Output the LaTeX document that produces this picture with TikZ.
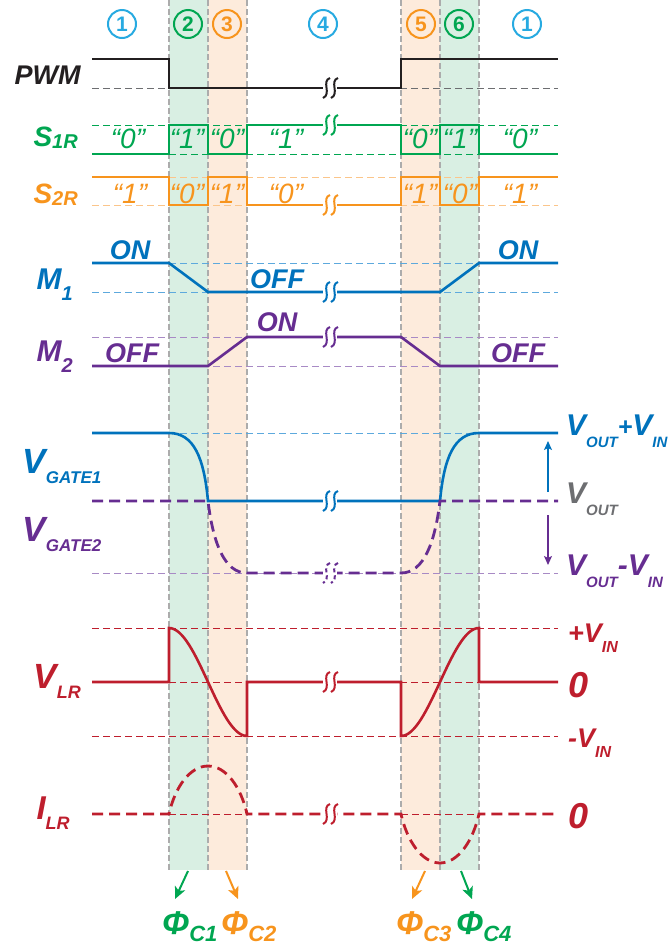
\documentclass[tikz,border=0pt]{standalone}
\usepackage{fontspec}
\setmainfont{Liberation Sans}
\usetikzlibrary{calc, arrows.meta}

\newcommand{\fs}[1]{\fontsize{#1}{#1}\selectfont}
\newcommand{\lowsub}[3]{\raisebox{-#1pt}{\fs{#2}#3}}

\begin{document}
\begin{tikzpicture}[x=1pt, y=-1pt, font=\bfseries\itshape]
    % Define band edges and signal ends
    \def\tA{169} \def\tB{208} \def\tC{247}
    \def\tD{401} \def\tE{440} \def\tF{479}
    \def\xL{92} \def\xR{558} \def\xBrk{330}

    \definecolor{pwmColour}{HTML}{231F20}
    \definecolor{greenColour}{HTML}{00A651}
    \definecolor{orangeColour}{HTML}{F7941D}
    \definecolor{cyanColour}{HTML}{27AAE1}
    \definecolor{blueColour}{HTML}{0072BC}
    \definecolor{purpleColour}{HTML}{662D91}
    \definecolor{redColour}{HTML}{BE1E2D}
    \definecolor{greyColour}{HTML}{6D6E71}
    \definecolor{lightBlue}{HTML}{5DA9DD}
    \definecolor{lightPurple}{HTML}{A88AC5}
    \definecolor{lightOrange}{HTML}{FBC58A}
    \definecolor{bandGreen}{HTML}{D9EFE3}
    \definecolor{bandOrange}{HTML}{FDEBDC}

    \tikzset{
        wave/.style={line width=2.6pt},
        dwave/.style={line width=2.8pt, dash pattern=on 11pt off 6pt},
        refline/.style={line width=1pt, dash pattern=on 7pt off 4pt},
        edge/.style={draw=gray!65, line width=1.2pt, dash pattern=on 6pt off 3pt},
        phase/.style={circle, line width=2pt, minimum size=28pt, inner sep=0pt, font=\bfseries\fs{21}},
        bit/.style={anchor=base, font=\mdseries\itshape\fs{28}},
        state/.style={anchor=base, font=\bfseries\itshape\fs{27}},
        phiarrow/.style={line width=2pt, -{Stealth[length=12pt, width=11pt, inset=3pt]}},
        vararrow/.style={line width=1.3pt, -{Stealth[length=9pt, width=8pt, inset=2pt]}},
        brk/.pic={
            \fill[white] (-7,-11) rectangle (7,11);
            \draw[line width=2pt, pic actions] (0,-10) .. controls (-9,-7) and (2,6) .. (-7,10);
            \draw[line width=2pt, pic actions] (8,-10) .. controls (-1,-7) and (10,6) .. (1,10);
        }
    }

    \useasboundingbox (0,0) rectangle (668,946);

    % Draw shaded bands
    \fill[bandGreen] (\tA,0) rectangle (\tB,870);
    \fill[bandOrange] (\tB,0) rectangle (\tC,870);
    \fill[bandOrange] (\tD,0) rectangle (\tE,870);
    \fill[bandGreen] (\tE,0) rectangle (\tF,870);
    \foreach \x in {\tA,\tB,\tC,\tD,\tE,\tF}
        \draw[edge] (\x,0) -- (\x,870);

    % Phase numbers
    \foreach \cx/\num/\col in {122/1/cyanColour, 188/2/greenColour, 227/3/orangeColour, 323/4/cyanColour, 421/5/orangeColour, 459/6/greenColour, 527/1/cyanColour}
        \node[phase, draw=\col, text=\col] (ph\cx) at (\cx,24) {\num};

    % PWM
    \draw[refline, greyColour] (\xL,88) -- (\xR,88);
    \draw[wave, pwmColour] (\xL,59) -- (\tA,59) -- (\tA,88) -- (\tD,88) -- (\tD,59) -- (\xR,59);
    \path (\xBrk,88) pic[draw=pwmColour] {brk};
    \node[anchor=base west, text=pwmColour, font=\bfseries\itshape\fs{27}] (pwmLabel) at (11,84) {PWM};

    % S1R
    \draw[refline, greenColour] (\xL,125) -- (\xR,125);
    \draw[refline, greenColour] (\xL,154) -- (\xR,154);
    \draw[wave, greenColour] (\xL,154) -| (\tA,125) -| (\tB,154) -| (\tC,125) -| (\tD,154) -| (\tE,125) -| (\tF,154) -- (\xR,154);
    \path (\xBrk,125) pic[draw=greenColour] {brk};
    \node[anchor=base west, text=greenColour] (sOneLabel) at (30,146) {\fs{28}S\lowsub{2}{20}{1R}};
    \foreach \bx/\bv in {128/0, 187/1, 227/0, 286/1, 420/0, 460/1, 520/0}
        \node[bit, text=greenColour] (sOne\bx) at (\bx,148) {“\bv”};

    % S2R
    \draw[refline, lightOrange] (\xL,177) -- (\xR,177);
    \draw[refline, lightOrange] (\xL,205) -- (\xR,205);
    \draw[wave, orangeColour] (\xL,177) -| (\tA,205) -| (\tB,177) -| (\tC,205) -| (\tD,177) -| (\tE,205) -| (\tF,177) -- (\xR,177);
    \path (\xBrk,205) pic[draw=orangeColour] {brk};
    \node[anchor=base west, text=orangeColour] (sTwoLabel) at (30,203) {\fs{28}S\lowsub{2}{20}{2R}};
    \foreach \bx/\bv in {130/1, 187/0, 227/1, 286/0, 420/1, 460/0, 520/1}
        \node[bit, text=orangeColour] (sTwo\bx) at (\bx,203) {“\bv”};

    % M1 and M2
    \draw[refline, lightBlue] (\xL,263) -- (\xR,263);
    \draw[refline, lightBlue] (\xL,292) -- (\xR,292);
    \draw[wave, blueColour] (\xL,263) -- (\tA,263) -- (\tB,292) -- (\tE,292) -- (\tF,263) -- (\xR,263);
    \path (\xBrk,292) pic[draw=blueColour] {brk};
    \draw[refline, lightPurple] (\xL,337) -- (\xR,337);
    \draw[refline, lightPurple] (\xL,366) -- (\xR,366);
    \draw[wave, purpleColour] (\xL,366) -- (\tB,366) -- (\tC,337) -- (\tD,337) -- (\tE,366) -- (\xR,366);
    \path (\xBrk,337) pic[draw=purpleColour] {brk};
    \node[anchor=base west, text=blueColour] (mOneLabel) at (33,289) {\fs{30}M\lowsub{11}{20}{1}};
    \node[anchor=base west, text=purpleColour] (mTwoLabel) at (33,361) {\fs{30}M\lowsub{11}{20}{2}};
    \node[state, text=blueColour] (mOneOnL) at (130,259) {ON};
    \node[state, text=blueColour] (mOneOff) at (277,288) {OFF};
    \node[state, text=blueColour] (mOneOnR) at (518,259) {ON};
    \node[state, text=purpleColour] (mTwoOffL) at (132,362) {OFF};
    \node[state, text=purpleColour] (mTwoOn) at (277,331) {ON};
    \node[state, text=purpleColour] (mTwoOffR) at (518,362) {OFF};

    % Gate voltages
    \draw[refline, lightBlue] (\tA,433) -- (\tF,433);
    \draw[refline, lightPurple] (\xL,573) -- (\xR,573);
    \draw[wave, blueColour] (\xL,433) -- (\tA,433) .. controls (194,433) and (204,458) .. (\tB,501) -- (\tE,501) .. controls (444,458) and (454,433) .. (\tF,433) -- (\xR,433);
    \draw[dwave, purpleColour] (\xL,501) -- (\tB,501) .. controls (213,542) and (224,573) .. (\tC,573) -- (\tD,573) .. controls (424,573) and (435,542) .. (\tE,501) -- (\xR,501);
    \path (\xBrk,501) pic[draw=blueColour] {brk};
    \path (\xBrk,573) pic[draw=purpleColour, dash pattern=on 4pt off 3pt] {brk};
    \node[anchor=base west, text=blueColour] (gOneLabel) at (19,473) {\fs{35}V\lowsub{10}{17}{GATE1}};
    \node[anchor=base west, text=purpleColour] (gTwoLabel) at (19,541) {\fs{35}V\lowsub{10}{17}{GATE2}};
    \node[anchor=base west, text=blueColour, inner xsep=0pt] (vHigh) at (566,435) {\fs{30}V\lowsub{12}{15}{OUT}\fs{25}+\fs{30}V\lowsub{12}{15}{IN}};
    \node[anchor=base west, text=greyColour, inner xsep=0pt] (vMid) at (566,503) {\fs{30}V\lowsub{12}{15}{OUT}};
    \node[anchor=base west, text=purpleColour, inner xsep=0pt] (vLow) at (566,575) {\fs{30}V\lowsub{12}{15}{OUT}\fs{30}-V\lowsub{12}{15}{IN}};
    \draw[vararrow, blueColour] (548,492) -- (548,441);
    \draw[vararrow, purpleColour] (548,515) -- (548,565);

    % VLR
    \draw[refline, redColour] (\xL,628) -- (\xR,628);
    \draw[refline, redColour] (\xL,682) -- (\xR,682);
    \draw[refline, redColour] (\xL,736) -- (\xR,736);
    \draw[wave, redColour] (\xL,682) -- (\tA,682) -- (\tA,628) .. controls (197,628) and (219,736) .. (\tC,736) -- (\tC,682) -- (\tD,682) -- (\tD,736) .. controls (429,736) and (451,628) .. (\tF,628) -- (\tF,682) -- (\xR,682);
    \path (\xBrk,682) pic[draw=redColour] {brk};
    \node[anchor=base west, text=redColour] (vlrLabel) at (30,688) {\fs{35}V\lowsub{10}{18}{LR}};
    \node[anchor=base west, text=redColour, inner xsep=0pt] (vPlus) at (568,642) {\fs{27}+V\lowsub{10}{16}{IN}};
    \node[anchor=base west, text=redColour, inner xsep=0pt] (vZero) at (568,697) {\fs{36}0};
    \node[anchor=base west, text=redColour, inner xsep=0pt] (vMinus) at (568,747) {\fs{27}-V\lowsub{10}{16}{IN}};

    % ILR
    \draw[refline, redColour] (\tA,814) -- (\tC,814);
    \draw[refline, redColour] (\tD,814) -- (\tF,814);
    \draw[dwave, redColour] (\xL,814) -- (\tA,814) .. controls (175,787) and (190,766) .. (\tB,766) .. controls (226,766) and (241,787) .. (\tC,814) -- (\tD,814) .. controls (407,841) and (422,863) .. (\tE,863) .. controls (458,863) and (473,841) .. (\tF,814) -- (\xR,814);
    \path (\xBrk,814) pic[draw=redColour] {brk};
    \node[anchor=base west, text=redColour] (ilrLabel) at (33,819) {\fs{33}I\lowsub{10}{18}{LR}};
    \node[anchor=base west, text=redColour, inner xsep=0pt] (iZero) at (568,828) {\fs{36}0};

    % Phase arrows
    \coordinate (aOne) at (175,899);
    \coordinate (aTwo) at (238,899);
    \coordinate (aThree) at (412,899);
    \coordinate (aFour) at (472,899);
    \draw[phiarrow, greenColour] (188,871) -- (aOne);
    \draw[phiarrow, orangeColour] (226,871) -- (aTwo);
    \draw[phiarrow, orangeColour] (425,871) -- (aThree);
    \draw[phiarrow, greenColour] (461,871) -- (aFour);
    \node[anchor=base west, text=greenColour, inner xsep=0pt] (phiOne) at (162,934) {\fs{33}Φ\lowsub{7}{22}{C1}};
    \node[anchor=base west, text=orangeColour, inner xsep=0pt] (phiTwo) at (221,934) {\fs{33}Φ\lowsub{7}{22}{C2}};
    \node[anchor=base west, text=orangeColour, inner xsep=0pt] (phiThree) at (396,934) {\fs{33}Φ\lowsub{7}{22}{C3}};
    \node[anchor=base west, text=greenColour, inner xsep=0pt] (phiFour) at (456,934) {\fs{33}Φ\lowsub{7}{22}{C4}};

\end{tikzpicture}
\end{document}
